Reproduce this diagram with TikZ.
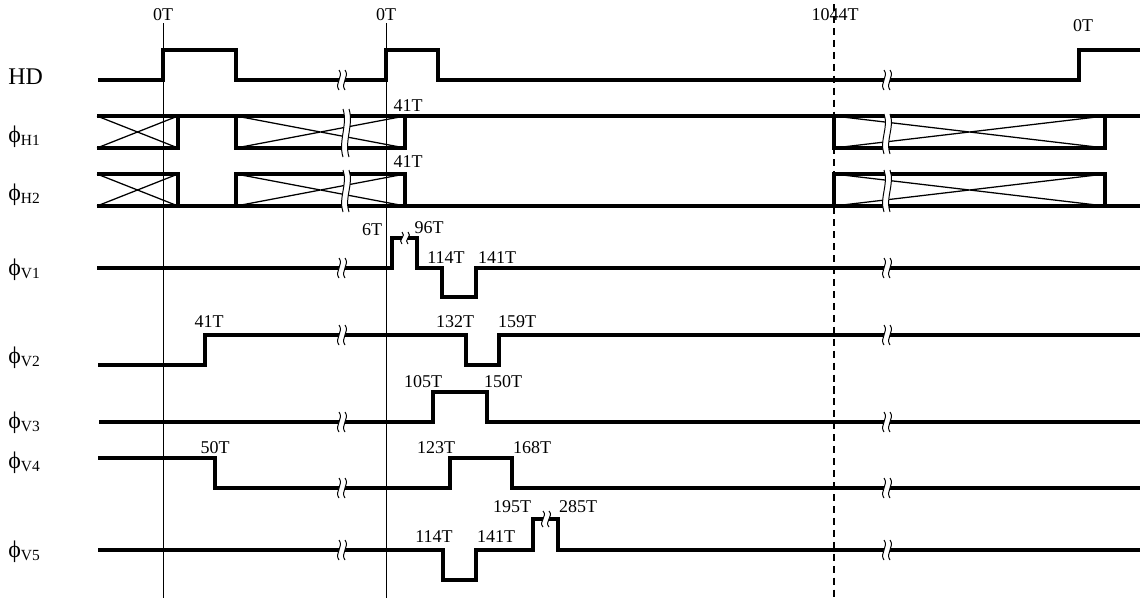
\documentclass[tikz,border=0pt]{standalone}
\usepackage{fontspec}
\setmainfont{Liberation Serif}
\usepackage{tkz-euclide}
\usetikzlibrary{calc}

% break mark: x, y, half height
\newcommand\drawBreak[3]{%
  \fill[white] (#1-3,#2-#3) .. controls (#1+2,#2-#3/3) and (#1-8,#2+#3/3) .. (#1-3,#2+#3)
    -- (#1+3,#2+#3) .. controls (#1-2,#2+#3/3) and (#1+8,#2-#3/3) .. (#1+3,#2-#3) -- cycle;
  \draw[line width=.7pt] (#1-3,#2-#3) .. controls (#1+2,#2-#3/3) and (#1-8,#2+#3/3) .. (#1-3,#2+#3);
  \draw[line width=.7pt] (#1+3,#2-#3) .. controls (#1+8,#2-#3/3) and (#1-2,#2+#3/3) .. (#1+3,#2+#3);}
\newcommand\sig[1]{ϕ\raisebox{-2.5pt}{\fontsize{11}{11}\selectfont #1}}

\begin{document}
\begin{tikzpicture}[x=0.025cm,y=-0.025cm,
  sigline/.style={line width=2.2pt,color=black,line join=miter},
  hatch/.style={line width=.9pt,color=black},
  tlabel/.style={font=\fontsize{12.8}{12.8}\selectfont,anchor=base,inner sep=0pt},
  rlabel/.style={font=\fontsize{17}{17}\selectfont,anchor=base west,inner sep=0pt}]
\useasboundingbox (0,0) rectangle (1143,598);

\tkzDefPoints{163/23/Ta,163/598/Tb,386/23/Tc,386/598/Td,834/4/Te,834/598/Tf}
\draw[line width=.6pt] (Ta) -- (Tb) (Tc) -- (Td);
\draw[line width=1pt,dash pattern=on 5pt off 3.5pt] (Te) -- (Tf);

% HD
\tkzDefPoints{98/80/Ha,163/80/Hb,163/50/Hc,236/50/Hd,236/80/He,386/80/Hf,386/50/Hg,
  438/50/Hh,438/80/Hi,1079/80/Hj,1079/50/Hk,1140/50/Hl}
\draw[sigline] (Ha) -- (Hb) -- (Hc) -- (Hd) -- (He) -- (Hf) -- (Hg) -- (Hh) -- (Hi) -- (Hj) -- (Hk) -- (Hl);

% phi H1
\tkzDefPoints{97/116/Aa,1140/116/Ab,97/148/Ac,178/148/Ad,178/116/Ae,236/116/Af,236/148/Ag,
  405/148/Ah,405/116/Ai,834/116/Aj,834/148/Ak,1105/148/Al,1105/116/Am}
\draw[sigline] (Aa) -- (Ab) (Ac) -- (Ad) -- (Ae) (Af) -- (Ag) -- (Ah) -- (Ai) (Aj) -- (Ak) -- (Al) -- (Am);
\draw[hatch] (Aa) -- (Ad) (Ac) -- (Ae) (Af) -- (Ah) (Ag) -- (Ai) (Aj) -- (Al) (Ak) -- (Am);

% phi H2
\tkzDefPoints{97/206/Ba,1140/206/Bb,97/174/Bc,178/174/Bd,178/206/Be,236/206/Bf,236/174/Bg,
  405/174/Bh,405/206/Bi,834/206/Bj,834/174/Bk,1105/174/Bl,1105/206/Bm}
\draw[sigline] (Ba) -- (Bb) (Bc) -- (Bd) -- (Be) (Bf) -- (Bg) -- (Bh) -- (Bi) (Bj) -- (Bk) -- (Bl) -- (Bm);
\draw[hatch] (Bc) -- (Be) (Ba) -- (Bd) (Bg) -- (Bi) (Bf) -- (Bh) (Bk) -- (Bm) (Bj) -- (Bl);

% phi V1 .. V5
\tkzDefPoints{97/268/Ca,392/268/Cb,392/238/Cc,417/238/Cd,417/268/Ce,442/268/Cf,442/297/Cg,
  476/297/Ch,476/268/Ci,1140/268/Cj}
\draw[sigline] (Ca) -- (Cb) -- (Cc) -- (Cd) -- (Ce) -- (Cf) -- (Cg) -- (Ch) -- (Ci) -- (Cj);
\tkzDefPoints{98/365/Da,205/365/Db,205/335/Dc,466/335/Dd,466/365/De,499/365/Df,499/335/Dg,1140/335/Dh}
\draw[sigline] (Da) -- (Db) -- (Dc) -- (Dd) -- (De) -- (Df) -- (Dg) -- (Dh);
\tkzDefPoints{99/422/Ea,433/422/Eb,433/392/Ec,487/392/Ed,487/422/Ee,1140/422/Ef}
\draw[sigline] (Ea) -- (Eb) -- (Ec) -- (Ed) -- (Ee) -- (Ef);
\tkzDefPoints{98/458/Fa,215/458/Fb,215/488/Fc,450/488/Fd,450/458/Fe,512/458/Ff,512/488/Fg,1140/488/Fh}
\draw[sigline] (Fa) -- (Fb) -- (Fc) -- (Fd) -- (Fe) -- (Ff) -- (Fg) -- (Fh);
\tkzDefPoints{98/550/Ga,443/550/Gb,443/580/Gc,476/580/Gd,476/550/Ge,533/550/Gf,533/519/Gg,
  558/519/Gh,558/550/Gi,1140/550/Gj}
\draw[sigline] (Ga) -- (Gb) -- (Gc) -- (Gd) -- (Ge) -- (Gf) -- (Gg) -- (Gh) -- (Gi) -- (Gj);

% breaks
\drawBreak{342}{80}{10}  \drawBreak{887}{80}{10}
\drawBreak{346}{133}{24} \drawBreak{887}{134}{20}
\drawBreak{346}{191}{21} \drawBreak{887}{191}{21}
\drawBreak{342}{268}{10} \drawBreak{887}{268}{10} \drawBreak{405}{238}{6}
\drawBreak{342}{335}{10} \drawBreak{887}{335}{10}
\drawBreak{342}{422}{10} \drawBreak{887}{422}{10}
\drawBreak{342}{488}{10} \drawBreak{887}{488}{10}
\drawBreak{342}{550}{10} \drawBreak{887}{550}{10} \drawBreak{546}{519}{8}

\node[rlabel] (nHD) at (8,84) {HD};
\node[rlabel] (nH1) at (8,142) {\sig{H1}};
\node[rlabel] (nH2) at (8,200) {\sig{H2}};
\node[rlabel] (nV1) at (8,275) {\sig{V1}};
\node[rlabel] (nV2) at (8,363) {\sig{V2}};
\node[rlabel] (nV3) at (8,428) {\sig{V3}};
\node[rlabel] (nV4) at (8,468) {\sig{V4}};
\node[rlabel] (nV5) at (8,557) {\sig{V5}};

\node[tlabel] (t0a) at (163,21) {0T};
\node[tlabel] (t0b) at (386,21) {0T};
\node[tlabel] (t1044) at (835,20) {1044T};
\node[tlabel] (t0c) at (1083,31) {0T};
\node[tlabel] (tH1) at (408,111) {41T};
\node[tlabel] (tH2) at (408,167) {41T};
\node[tlabel] (tV1a) at (372,235) {6T};
\node[tlabel] (tV1b) at (429,233) {96T};
\node[tlabel] (tV1c) at (446,263) {114T};
\node[tlabel] (tV1d) at (497,263) {141T};
\node[tlabel] (tV2a) at (209,327) {41T};
\node[tlabel] (tV2b) at (455,327) {132T};
\node[tlabel] (tV2c) at (517,327) {159T};
\node[tlabel] (tV3a) at (423,387) {105T};
\node[tlabel] (tV3b) at (503,387) {150T};
\node[tlabel] (tV4a) at (215,453) {50T};
\node[tlabel] (tV4b) at (436,453) {123T};
\node[tlabel] (tV4c) at (532,453) {168T};
\node[tlabel] (tV5a) at (512,512) {195T};
\node[tlabel] (tV5b) at (578,512) {285T};
\node[tlabel] (tV5c) at (434,542) {114T};
\node[tlabel] (tV5d) at (496,542) {141T};
\end{tikzpicture}
\end{document}
